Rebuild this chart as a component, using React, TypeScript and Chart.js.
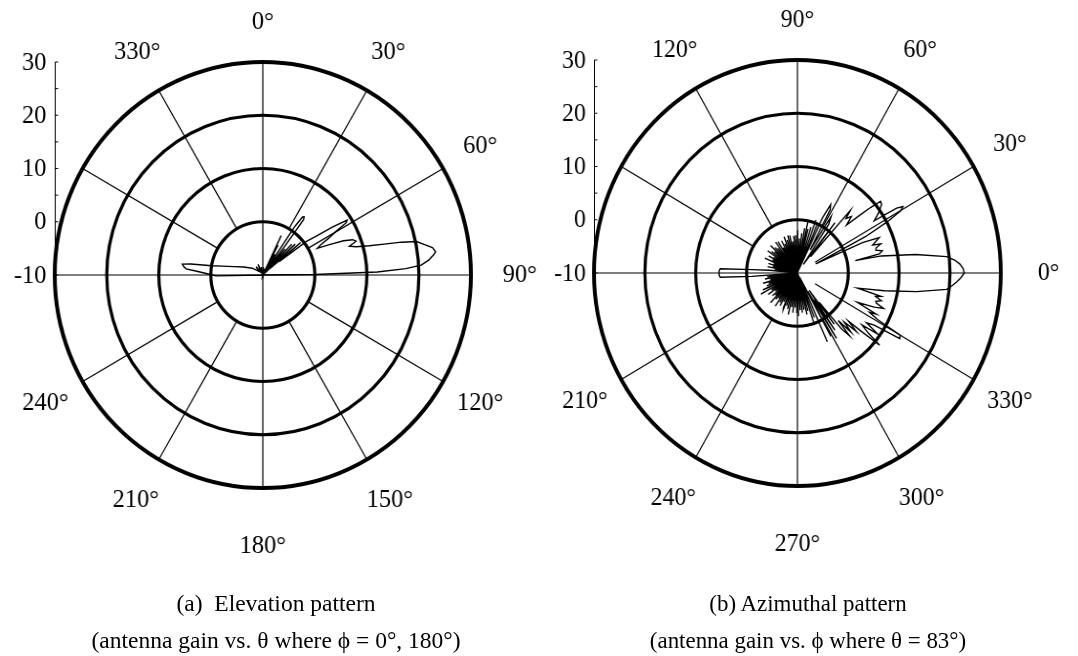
import React, { useEffect, useRef } from 'react';
import { Chart, registerables } from 'chart.js';

Chart.register(...registerables);

// ---------- data ----------
const STEP = 0.5; // degrees per radar category
const LABEL_COUNT = 720;
const radialTicks = [-10, 0, 10, 20, 30];
const radialMinorTicks = [-5, 5, 15, 25];
const spokeAngles = [0, 30, 60, 90, 120, 150, 180, 210, 240, 270, 300, 330];

// (a) Elevation pattern: theta in degrees (clockwise from top), gain in dB
const elevationTheta = [
  0, 4, 8, 12, 17, 22, 25.5, 26.5, 27.5, 29, 31, 32.5, 34, 35, 36, 37, 38, 39.5, 41, 42.5,
  44, 45.5, 47, 48.5, 50, 51.5, 53, 54.5, 56, 57.5, 58.5, 60, 61.5, 63, 64.5, 66, 67.5, 69, 70.5, 72,
  73.5, 75, 76, 77, 78, 79.5, 81, 82.5, 83.5, 85, 86.5, 87.5, 88.5, 89.5, 90,
  267.5, 269, 271, 273, 274.5, 276, 277.5, 278.5, 280, 282, 286, 292, 302, 312, 320, 328, 335, 342, 348, 355,
];
const elevationGain = [
  -10, -8.5, -9.5, -8.8, -10, -10, -1.8, -10, -3.7, -10, -5.5, -10, 1, 3.3, 3.5, 3, -3, -10, -3.5, -10,
  -2, -10, -1.5, -8, -0.5, -6, 0.5, 2.3, 6, 9.2, 8.8, 6, 4.3, 2.5, 1.6, 4, 6.8, 8.5, 9, 7.5,
  8.7, 11.2, 14, 17.4, 20.2, 21.5, 23, 23.5, 23, 22, 20.5, 17.5, 12, 0, -10,
  -10, -1, 0.5, 2.5, 4.8, 5.3, 5.6, 4, 0, -2, -4.3, -6, -7.6, -9, -8, -9.5, -7.8, -9.5, -8.5, -10,
];
const elevationAngleLabels = [0, 30, 60, 90, 120, 150, 180, 210, 240, 330];

// (b) Azimuthal pattern: phi in degrees (counter-clockwise from right), gain in dB
const azimuthPhi = [
  0, 1.5, 3, 4.5, 6, 8.5, 11, 11.5, 12.5, 14, 15.5, 17, 18.5, 19.5, 21, 22.5, 24, 25.5, 27, 28.5,
  30, 31, 32, 33, 34.5, 36, 38, 39.5, 40.5, 41.5, 43, 45, 47, 48.5, 50, 52, 54, 56, 58, 60,
  61.5, 63, 64.5, 66, 67, 68.5, 70, 71.5, 73, 74.5, 76, 77, 78, 79, 80.5, 82, 83.5, 85, 86.5, 88,
  89.5, 91, 93, 94.5, 96, 97.5, 99, 100.5, 102, 103.5, 105, 106.5, 108, 109.5, 111, 112.5, 114, 115.5, 117, 118.5,
  120, 121.5, 123, 124.5, 126.5, 128, 129.5, 131, 132.5, 134, 135.5, 137, 138.5, 140, 141.5, 143, 144.5, 146, 147.5, 149,
  150.5, 152, 153.5, 155, 156.5, 158, 159.5, 161, 162.5, 164, 165.5, 167, 168.5, 170, 171.5, 173, 174.5, 176, 177, 178.5,
  181.5, 183, 184, 185.5, 187, 188.5, 190, 191.5, 193, 194.5, 196, 197.5, 199, 200.5, 202, 203.5, 205, 206, 207.5, 209,
  210.5, 212, 213.5, 215, 216.5, 218, 219.5, 221, 222.5, 224, 225.5, 226.5, 228, 229.5, 231, 232.5, 234, 235, 236.5, 238,
  239.5, 241, 242.5, 244, 245.5, 247, 248, 249.5, 251, 252.5, 254, 255.5, 257, 258.5, 260, 261.5, 263, 264.5, 266, 267.5,
  269, 270.5, 271.5, 273, 274.5, 276, 277.5, 279, 280.5, 282, 283.5, 285, 286, 287.5, 289, 290, 291.5, 292.5, 294.5, 295.5,
  297, 298, 299, 300.5, 302, 303, 304.5, 305.5, 307, 308, 309.5, 311, 312, 313.5, 315, 316.5, 318, 319, 320, 321,
  322.5, 324, 325.5, 327, 328.5, 330, 331, 332.5, 333.5, 335, 337, 338.5, 340, 341, 342.5, 344, 345, 346.5, 349, 351.5,
  354, 355.5, 357, 358.5,
];
const azimuthGain = [
  22.8, 22.6, 22, 21, 19.5, 13.5, 6.8, 1.6, 6.5, 7.2, 6, 6.2, 7.3, 5.7, 6.5, 7.4, 4, -6, 5, 10,
  13.5, 14.2, 13, 8, 9, 10, 11, 11.2, 9, 6.4, 3.2, 5, 4, 5.7, -6, 2, -8, 1, 2.5, -5,
  3.5, 4.4, 1.4, -9, 0, -10, 0.6, -10, -1, -10, -1.5, -10, -0.2, -10, -1.5, -10, -2.5, -10, -3.5, -10,
  -2, -10, -2.9, -10, -3, -10, -4, -10, -2.8, -10, -2.7, -10, -3.5, -10, -2.7, -10, -4, -10, -3.2, -10,
  -4.5, -10, -3, -10, -2.8, -10, -4, -10, -3.5, -10, -2.6, -10, -4, -10, -3.5, -10, -2.8, -10, -4.5, -10,
  -3.5, -10, -4.5, -10, -3, -10, -5, -10, -4, -10, -5, -10, -4, -10, -5.5, -10, -4.5, -1, 5.2, 5.4,
  5.4, 5.2, -1, -10, -4, -10, -3.5, -10, -4.5, -10, -3, -10, -4, -10, -3.5, -10, -2.5, -3.8, -10, -1.8,
  -10, -4, -10, -3, -10, -4.5, -10, -3.5, -10, -4, -10, -2.3, -10, -3.5, -10, -4, -10, -2.4, -10, -3.5,
  -10, -3, -10, -4, -10, -3, -2.6, -10, -3.5, -10, -3, -10, -2, -10, -3.5, -10, -2.5, -10, -3.5, -10,
  -2.5, -10, -1.9, -10, -3, -10, -2.5, -10, -3, -10, -2, -10, -2.6, -10, 0.3, -10, -1, -10, 4.2, -8,
  -7, -9, 3.6, -6, 4.5, -4, 3, -6, 2, -3, 3.5, 5.6, 2, 5.3, 3, 6, 3.5, 7, 11.1, 8,
  6, 9.5, 6.5, 8, 13.6, 13.3, 8, 6, 7.3, 3, 6.4, 8.2, 6.5, 6.3, 7.3, 6, 7, 2.2, 7.4, 13.7,
  19.5, 20.5, 21.4, 22.2,
];
const azimuthAngleLabels = [90, 60, 30, 0, 330, 300, 270, 240, 210, 120];

const captionA = ['(a)  Elevation pattern', '(antenna gain vs. \u03B8 where \u03D5 = 0\u00B0, 180\u00B0)'];
const captionB = ['(b) Azimuthal pattern', '(antenna gain vs. \u03D5 where \u03B8 = 83\u00B0)'];

// ---------- helpers ----------
const FONT = '"Liberation Serif", "Times New Roman", serif';

type Spec = {
  angles: number[];
  gains: number[];
  labels: number[];
  azimuth: boolean;
  left: number;
  width: number;
  squeeze: number;
  padding: { left: number; right: number; top: number; bottom: number };
  spokeStart: Record<number, number>;
};

const toScreen = (a: number, azimuth: boolean) => (azimuth ? (((90 - a) % 360) + 360) % 360 : a);

// gap between outer ring and the centre of an angle label, by screen direction
const labelGap = (s: number) => (s === 0 ? 40 : s === 180 ? 58 : s === 90 ? 50 : s === 150 || s === 210 ? 47 : 44);

function buildTable(spec: Spec) {
  const data: (number | null)[] = new Array(LABEL_COUNT).fill(null);
  spec.angles.forEach((a, i) => {
    const idx = Math.round(toScreen(a, spec.azimuth) / STEP) % LABEL_COUNT;
    data[idx] = spec.gains[i];
  });
  return data;
}

function makeDecor(spec: Spec) {
  return {
    id: 'polarDecor',
    beforeDatasetsDraw(chart: any) {
      const scale = chart.scales.r;
      const ctx = chart.ctx as CanvasRenderingContext2D;
      ctx.save();
      ctx.strokeStyle = '#000';
      ctx.lineWidth = 1.2;
      for (const a of spokeAngles) {
        const idx = toScreen(a, spec.azimuth) / STEP;
        const startValue = spec.spokeStart[a] !== undefined ? spec.spokeStart[a] : a % 90 === 0 ? -10 : 0;
        const p1 = scale.getPointPosition(idx, scale.getDistanceFromCenterForValue(startValue));
        const p2 = scale.getPointPosition(idx, scale.drawingArea);
        ctx.beginPath();
        ctx.moveTo(p1.x, p1.y);
        ctx.lineTo(p2.x, p2.y);
        ctx.stroke();
      }
      ctx.restore();
    },
    afterDraw(chart: any) {
      const scale = chart.scales.r;
      const ctx = chart.ctx as CanvasRenderingContext2D;
      ctx.save();
      ctx.fillStyle = '#000';
      ctx.strokeStyle = '#000';
      ctx.font = `25px ${FONT}`;
      ctx.textAlign = 'center';
      ctx.textBaseline = 'middle';
      for (const a of spec.labels) {
        const s = toScreen(a, spec.azimuth);
        const p = scale.getPointPosition(s / STEP, scale.drawingArea + labelGap(s));
        ctx.fillText(`${a}\u00B0`, p.x, p.y);
      }
      const x0 = Math.round(scale.xCenter - scale.drawingArea) + 0.5;
      ctx.lineWidth = 1;
      ctx.beginPath();
      ctx.moveTo(x0, scale.yCenter - scale.drawingArea);
      ctx.lineTo(x0, scale.yCenter);
      ctx.stroke();
      for (const v of [...radialTicks, ...radialMinorTicks]) {
        const y = scale.yCenter - scale.getDistanceFromCenterForValue(v);
        ctx.beginPath();
        ctx.moveTo(x0, y);
        ctx.lineTo(x0 + 3, y);
        ctx.stroke();
      }
      ctx.textAlign = 'right';
      for (const v of radialTicks) {
        const y = scale.yCenter - scale.getDistanceFromCenterForValue(v);
        ctx.fillText(String(v), x0 - 9, y + 1);
      }
      ctx.restore();
    },
  };
}

const elevationSpec: Spec = {
  angles: elevationTheta,
  gains: elevationGain,
  labels: elevationAngleLabels,
  azimuth: false,
  left: 0,
  width: 560,
  squeeze: 0.977,
  padding: { left: 56, right: 78, top: 62, bottom: 168 },
  spokeStart: {},
};

const azimuthSpec: Spec = {
  angles: azimuthPhi,
  gains: azimuthGain,
  labels: azimuthAngleLabels,
  azimuth: true,
  left: 530,
  width: 570,
  squeeze: 0.955,
  padding: { left: 67, right: 77, top: 60, bottom: 170 },
  spokeStart: { 30: -6, 330: -6 },
};

function PolarPlot({ spec }: { spec: Spec }) {
  const ref = useRef<HTMLCanvasElement>(null);
  useEffect(() => {
    const labels = Array.from({ length: LABEL_COUNT }, (_, i) => i * STEP);
    const chart = new Chart(ref.current as HTMLCanvasElement, {
      type: 'radar',
      data: {
        labels,
        datasets: [
          {
            data: buildTable(spec),
            borderColor: '#000',
            borderWidth: 1.4,
            pointRadius: 0,
            pointHoverRadius: 0,
            fill: false,
            spanGaps: true,
            tension: 0,
          } as any,
        ],
      },
      options: {
        animation: false,
        responsive: false,
        events: [],
        layout: { padding: spec.padding },
        plugins: { legend: { display: false }, tooltip: { enabled: false } },
        scales: {
          r: {
            min: -10,
            max: 30,
            ticks: { stepSize: 10, display: false },
            grid: {
              circular: true,
              color: '#000',
              lineWidth: (ctx: any) =>
                ctx.tick && ctx.tick.value === 30 ? 4 : ctx.tick && ctx.tick.value === -10 ? 0 : 3.2,
            },
            angleLines: { display: false },
            pointLabels: { display: false },
          },
        },
      } as any,
      plugins: [makeDecor(spec) as any],
    });
    return () => chart.destroy();
  }, [spec]);
  return (
    <div
      style={{
        position: 'absolute',
        left: spec.left,
        top: 0,
        width: spec.width,
        height: 656,
        transform: `scaleX(${spec.squeeze})`,
        transformOrigin: '0 0',
      }}
    >
      <canvas ref={ref} width={spec.width} height={656} style={{ width: spec.width, height: 656 }} />
    </div>
  );
}

function Caption({ lines, cx, squeeze }: { lines: string[]; cx: number; squeeze: number }) {
  return (
    <>
      {lines.map((t, i) => (
        <div
          key={i}
          style={{
            position: 'absolute',
            left: cx - 300,
            width: 600,
            top: i === 0 ? 590 : 627,
            textAlign: 'center',
            fontFamily: FONT,
            fontSize: 24,
            lineHeight: '26px',
            color: '#000',
            whiteSpace: 'pre',
            transform: `scaleX(${squeeze})`,
            transformOrigin: '50% 50%',
          }}
        >
          {t}
        </div>
      ))}
    </>
  );
}

export default function App() {
  return (
    <div style={{ position: 'absolute', left: 0, top: 0, width: 1078, height: 656, background: '#fff', overflow: 'hidden' }}>
      <PolarPlot spec={elevationSpec} />
      <PolarPlot spec={azimuthSpec} />
      <Caption lines={captionA} cx={276} squeeze={0.98} />
      <Caption lines={captionB} cx={808} squeeze={0.955} />
    </div>
  );
}
